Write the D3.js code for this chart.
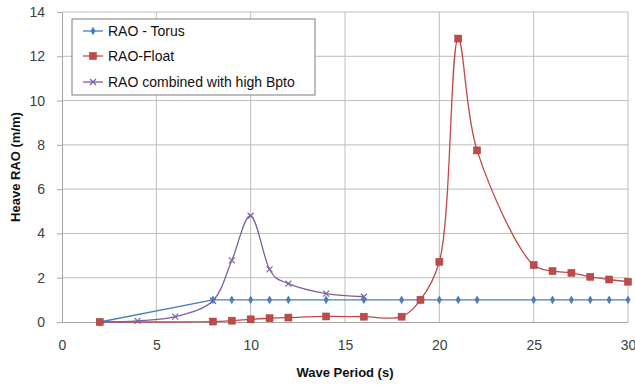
<!DOCTYPE html>
<html><head><meta charset="utf-8">
<script src="https://cdn.jsdelivr.net/npm/d3@7"></script>
<style>body{margin:0;background:#fff}svg{display:block;font-family:"Liberation Sans",Arial,sans-serif}</style>
</head><body><svg id="c" width="635" height="385"></svg>
<script>
const torusPeriod = [2,8,9,10,11,12,14,16,18,19,20,21,22,25,26,27,28,29,30];
const torusRAO    = [0,1,1,1,1,1,1,1,1,1,1,1,1,1,1,1,1,1,1];
const floatPeriod = [2,8,9,10,11,12,14,16,18,19,20,21,22,25,26,27,28,29,30];
const floatRAO    = [0,0.02,0.06,0.12,0.17,0.2,0.25,0.24,0.24,1.0,2.72,12.8,7.75,2.57,2.3,2.22,2.04,1.92,1.82];
const combinedPeriod = [2,4,6,8,9,10,11,12,14,16];
const combinedRAO    = [0,0.05,0.24,0.96,2.78,4.8,2.38,1.73,1.28,1.14];
const xTicks = [0,5,10,15,20,25,30];
const yTicks = [0,2,4,6,8,10,12,14];
const seriesNames = ["RAO - Torus","RAO-Float","RAO combined with high Bpto"];

const svg = d3.select("#c");
const L=62,R=628,T=12,B=322;
const x = d3.scaleLinear().domain([0,30]).range([L,R]);
const y = d3.scaleLinear().domain([0,14]).range([B,T]);
const gridC="#bdbdbd", txtC="#404040";

svg.append("g").selectAll("line").data(yTicks.filter(d=>d>0)).join("line")
  .attr("x1",L).attr("x2",R).attr("y1",d=>y(d)).attr("y2",d=>y(d))
  .attr("stroke",gridC).attr("stroke-width",1);
svg.append("g").selectAll("line").data(xTicks.filter(d=>d>0)).join("line")
  .attr("x1",d=>x(d)).attr("x2",d=>x(d)).attr("y1",T).attr("y2",B)
  .attr("stroke",gridC).attr("stroke-width",1);

const ya = svg.append("g").attr("transform",`translate(${L},0)`)
  .call(d3.axisLeft(y).tickValues(yTicks).tickSize(5).tickPadding(12).tickFormat(d3.format("d")));
const xa = svg.append("g").attr("transform",`translate(0,${B})`)
  .call(d3.axisBottom(x).tickValues(xTicks).tickSize(0).tickPadding(18).tickFormat(d3.format("d")));
[ya,xa].forEach(a=>{
  a.select(".domain").attr("stroke","#a6a6a6");
  a.selectAll(".tick line").attr("stroke","#a6a6a6");
  a.selectAll("text").attr("fill",txtC).style("font-size","14px").style("font-family","'Liberation Sans',Arial,sans-serif");
});

svg.append("text").attr("x",345).attr("y",377).attr("text-anchor","middle")
  .style("font-size","13px").style("font-weight","bold").attr("fill","#111").text("Wave Period (s)");
svg.append("text").attr("transform","translate(20,167) rotate(-90)").attr("text-anchor","middle")
  .style("font-size","13px").style("font-weight","bold").attr("fill","#111").text("Heave RAO (m/m)");

const colors=["#4a7ebb","#be4b48","#7d60a0"];
const zip=(a,b)=>a.map((v,i)=>[v,b[i]]);
const dT=zip(torusPeriod,torusRAO), dF=zip(floatPeriod,floatRAO), dC=zip(combinedPeriod,combinedRAO);
const lineLin=d3.line().x(d=>x(d[0])).y(d=>y(d[1]));
const lineSmF=d3.line().x(d=>x(d[0])).y(d=>y(d[1])).curve(d3.curveCatmullRom.alpha(0.5));
const lineSmC=d3.line().x(d=>x(d[0])).y(d=>y(d[1])).curve(d3.curveCatmullRom.alpha(0));

svg.append("path").datum(dT).attr("d",lineLin).attr("fill","none").attr("stroke",colors[0]).attr("stroke-width",1.3);
svg.append("path").datum(dF).attr("d",lineSmF).attr("fill","none").attr("stroke",colors[1]).attr("stroke-width",1.3);
svg.append("path").datum(dC).attr("d",lineSmC).attr("fill","none").attr("stroke",colors[2]).attr("stroke-width",1.3);

const diamond=d3.symbol().type(d3.symbolDiamond).size(22);
function markT(g,cx,cy){g.append("path").attr("d",diamond).attr("transform",`translate(${cx},${cy})`).attr("fill",colors[0]);}
function markF(g,cx,cy){g.append("rect").attr("x",cx-3.5).attr("y",cy-3.5).attr("width",7).attr("height",7).attr("fill",colors[1]).attr("stroke","#a33a37").attr("stroke-width",0.5);}
function markC(g,cx,cy){g.append("path").attr("d",`M${cx-3},${cy-3}L${cx+3},${cy+3}M${cx-3},${cy+3}L${cx+3},${cy-3}`).attr("stroke",colors[2]).attr("stroke-width",1.2);}

const gm=svg.append("g");
dC.forEach(d=>markC(gm,x(d[0]),y(d[1])));
dT.forEach(d=>markT(gm,x(d[0]),y(d[1])));
dF.forEach(d=>markF(gm,x(d[0]),y(d[1])));

const lg=svg.append("g");
lg.append("rect").attr("x",72).attr("y",19).attr("width",243).attr("height",76).attr("fill","#fff").attr("stroke","#7f7f7f").attr("stroke-width",1);
const rows=[31,56,82], marks=[markT,markF,markC];
seriesNames.forEach((n,i)=>{
  lg.append("line").attr("x1",83).attr("x2",103).attr("y1",rows[i]).attr("y2",rows[i]).attr("stroke",colors[i]).attr("stroke-width",1.3);
  marks[i](lg,93,rows[i]);
  lg.append("text").attr("x",108).attr("y",rows[i]+5).style("font-size","14px").attr("fill","#111").text(n);
});
</script></body></html>
